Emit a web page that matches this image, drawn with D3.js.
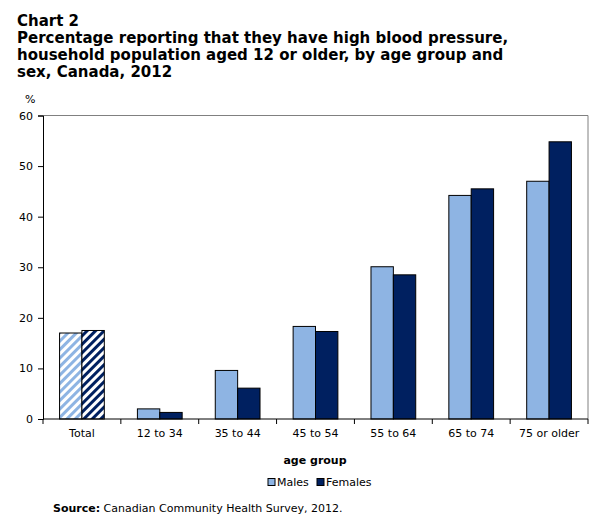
<!DOCTYPE html>
<html><head><meta charset="utf-8">
<script src="https://cdn.jsdelivr.net/npm/d3@7"></script>
<style>
body{margin:0;background:#fff;}
text{font-family:"DejaVu Sans",Verdana,sans-serif;fill:#000;}
</style></head>
<body><svg id="c" width="607" height="531"></svg>
<script>
const categories = ["Total","12 to 34","35 to 44","45 to 54","55 to 64","65 to 74","75 or older"];
const males   = [17.0, 2.0, 9.6, 18.3, 30.1, 44.2, 47.0];
const females = [17.5, 1.3, 6.1, 17.3, 28.5, 45.5, 54.8];
const yTicks = [0,10,20,30,40,50,60];
const seriesNames = ["Males","Females"];
const colors = ["#8EB4E3","#002060"];
const titleLines = ["Chart 2","Percentage reporting that they have high blood pressure,","household population aged 12 or older, by age group and","sex, Canada, 2012"];

const svg = d3.select("#c");
const L=43, R=588, T=115.5, B=419;

// patterns
const defs = svg.append("defs");
colors.forEach((c,i)=>{
  const p = defs.append("pattern").attr("id","hatch"+i).attr("patternUnits","userSpaceOnUse")
    .attr("width",6).attr("height",6).attr("patternTransform","rotate(45)");
  p.append("rect").attr("width",6).attr("height",6).attr("fill","#fff");
  p.append("rect").attr("width",3).attr("height",6).attr("fill",c);
});

// title
const tt = svg.append("text").attr("font-weight","bold").attr("font-size",15);
titleLines.forEach((t,i)=>{
  tt.append("tspan").attr("x",17).attr("y",26+i*17).text(t);
});

const x = d3.scaleBand().domain(categories).range([L,R]).paddingInner(0).paddingOuter(0);
const inner = d3.scaleBand().domain(seriesNames).range([0,x.bandwidth()]).paddingInner(0).paddingOuter(0.74);
const y = d3.scaleLinear().domain([0,60]).range([B,T]);

// frame lines
svg.append("line").attr("x1",L).attr("x2",R).attr("y1",T).attr("y2",T).attr("stroke","#808080");
svg.append("line").attr("x1",R).attr("x2",R).attr("y1",T).attr("y2",B).attr("stroke","#808080");

// bars
const data = categories.map((c,i)=>({c,vals:[males[i],females[i]]}));
const g = svg.append("g");
data.forEach((d,ci)=>{
  d.vals.forEach((v,si)=>{
    g.append("rect")
      .attr("x",x(d.c)+inner(seriesNames[si]))
      .attr("y",y(v))
      .attr("width",inner.bandwidth())
      .attr("height",B-y(v))
      .attr("fill", ci===0 ? `url(#hatch${si})` : colors[si])
      .attr("stroke","#000").attr("stroke-width",1);
  });
});

// y axis
const ya = svg.append("g").attr("transform",`translate(${L},0)`)
  .call(d3.axisLeft(y).tickValues(yTicks).tickSize(5).tickPadding(5));
ya.select(".domain").attr("stroke","#000");
ya.selectAll("text").attr("font-size",11).attr("font-family","DejaVu Sans,Verdana,sans-serif");

// x axis
const xa = svg.append("g").attr("transform",`translate(0,${B})`);
xa.append("line").attr("x1",L).attr("x2",R).attr("y1",0).attr("y2",0).attr("stroke","#000");
const bounds = categories.map(c=>x(c)).concat([R]);
bounds.forEach(b=>xa.append("line").attr("x1",b).attr("x2",b).attr("y1",0).attr("y2",5).attr("stroke","#000"));
categories.forEach(c=>{
  xa.append("text").attr("x",x(c)+x.bandwidth()/2).attr("y",18).attr("text-anchor","middle")
    .attr("font-size",11).text(c);
});

svg.append("text").attr("x",25).attr("y",103).attr("font-size",11).text("%");
svg.append("text").attr("x",315).attr("y",464).attr("text-anchor","middle").attr("font-size",11).attr("font-weight","bold").text("age group");

// legend
const leg = svg.append("g");
const legX = [268,317];
seriesNames.forEach((s,i)=>{
  leg.append("rect").attr("x",legX[i]).attr("y",478.5).attr("width",7).attr("height",7)
    .attr("fill",colors[i]).attr("stroke","#000").attr("stroke-width",1);
  leg.append("text").attr("x",legX[i]+9).attr("y",486).attr("font-size",11).text(s);
});

// source
const src = svg.append("text").attr("x",53).attr("y",512).attr("font-size",11);
src.append("tspan").attr("font-weight","bold").text("Source:");
src.append("tspan").text(" Canadian Community Health Survey, 2012.");
</script></body></html>
